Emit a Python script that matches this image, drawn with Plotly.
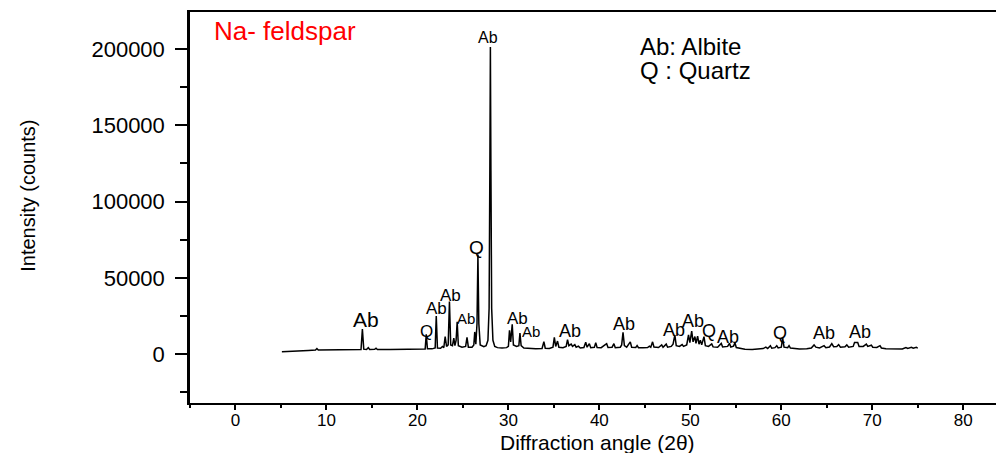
import plotly.graph_objects as go

# ---------------- data ----------------
two_theta = [
    5.1, 6.0, 7.0, 8.0, 8.8, 8.95, 9.1, 10.5, 12.0, 13.0, 13.8, 13.95, 14.1, 14.4, 14.6, 14.75,
    15.3, 15.45, 15.6, 17.0, 19.0, 20.5, 20.85, 20.97, 21.1, 21.6, 21.95, 22.07, 22.2, 22.55,
    22.75, 22.9, 23.05, 23.2, 23.38, 23.52, 23.66, 23.85, 24.0, 24.12, 24.25, 24.37, 24.5,
    24.9, 25.3, 25.45, 25.6, 26.0, 26.2, 26.3, 26.42, 26.55, 26.65, 26.75, 26.9, 27.3, 27.55,
    27.75, 27.88, 27.96, 28.02, 28.08, 28.16, 28.3, 28.5, 28.8, 29.3, 29.8, 30.0, 30.12, 30.25,
    30.42, 30.55, 30.9, 31.15, 31.27, 31.4, 31.7, 32.3, 33.0, 33.7, 33.9, 34.05, 34.5, 34.9,
    35.05, 35.2, 35.4, 35.55, 36.0, 36.35, 36.5, 36.65, 36.9, 37.05, 37.3, 37.45, 37.7, 37.9,
    38.3, 38.5, 38.65, 38.9, 39.05, 39.45, 39.6, 39.75, 40.2, 40.5, 40.8, 40.95, 41.4, 41.6,
    41.75, 42.3, 42.45, 42.6, 42.75, 43.0, 43.4, 43.55, 44.0, 44.15, 44.3, 44.8, 45.3, 45.5,
    45.65, 45.85, 46.0, 46.5, 46.85, 47.0, 47.35, 47.5, 47.9, 48.1, 48.3, 48.45, 48.8, 49.1,
    49.25, 49.6, 49.8, 49.95, 50.15, 50.3, 50.5, 50.62, 50.8, 50.95, 51.1, 51.25, 51.5, 51.65,
    52.0, 52.35, 52.5, 53.0, 53.4, 53.55, 54.1, 54.3, 54.45, 54.75, 54.9, 55.05, 55.5, 56.0,
    56.8, 57.5, 58.0, 58.3, 58.5, 58.8, 58.95, 59.3, 59.5, 59.65, 60.0, 60.15, 60.3, 60.7,
    60.85, 61.0, 61.5, 62.0, 62.8, 63.3, 63.6, 63.8, 64.2, 64.7, 64.9, 65.3, 65.55, 65.75,
    66.1, 66.3, 66.5, 67.0, 67.2, 67.4, 67.9, 68.05, 68.4, 68.55, 69.0, 69.35, 69.5, 69.9,
    70.05, 70.5, 70.85, 71.0, 71.5, 72.5, 73.3, 73.7, 73.9, 74.3, 74.5, 74.85, 75.0,
]
counts = [
    1500, 1900, 2200, 2400, 2600, 3600, 2600, 2700, 2800, 2900, 3000, 16400, 3200, 3000, 4200, 3000,
    3100, 3800, 3000, 3000, 3100, 3200, 3300, 12900, 3500, 3400, 4000, 25000, 4000, 3800,
    5000, 4200, 11500, 5000, 6000, 34500, 6000, 5500, 10500, 5500, 9000, 21200, 5500,
    4500, 5000, 11000, 4500, 4500, 6000, 14500, 6500, 20000, 65200, 20000, 6000, 4800, 5500,
    9000, 30000, 120000, 201300, 120000, 30000, 9000, 5000, 4200, 3900, 4200, 5000, 15500, 8000,
    19500, 6000, 5000, 5500, 13800, 5500, 4000, 3600, 3500, 3600, 8100, 3800, 3700, 4500,
    11000, 5000, 8500, 4500, 4200, 5000, 9400, 5500, 6500, 5000, 6200, 4500, 5200, 4000,
    4300, 7800, 4500, 6800, 4200, 4400, 7500, 4300, 4200, 5500, 6800, 4300, 4500, 6800,
    4200, 4500, 6000, 14200, 5500, 4500, 8000, 4500, 4300, 5600, 4200, 4100, 4300, 5200,
    4500, 8000, 4600, 4300, 6000, 4400, 6500, 4500, 5000, 6500, 12500, 5500, 5000, 6200,
    5000, 6000, 12500, 7500, 15000, 8000, 11500, 7000, 11800, 6500, 9000, 6000, 11400, 5500,
    5000, 6600, 4700, 4500, 7000, 4600, 5000, 7000, 4600, 5200, 7400, 4300, 3600, 3200,
    3000, 3100, 3600, 4500, 3700, 5500, 3800, 4200, 5500, 4000, 4500, 10500, 4500, 4200,
    5500, 3900, 3500, 3300, 3400, 4000, 6000, 4500, 4000, 5500, 4200, 4600, 6800, 4800,
    5000, 6200, 4500, 4800, 6000, 4500, 5000, 7500, 7500, 5000, 5000, 6500, 5000, 5800,
    4500, 4300, 5500, 4000, 3500, 3300, 3300, 4300, 3700, 4400, 3800, 4400, 3800,
]

# phase labels placed over the peaks (data coordinates)
peak_labels = ["Ab", "Ab", "Q", "Ab", "Ab", "Ab", "Q", "Ab", "Ab", "Ab", "Ab",
               "Ab", "Ab", "Q", "Ab", "Q", "Ab", "Ab"]
label_theta = [27.8, 14.4, 20.95, 22.1, 23.6, 25.3, 26.5, 31.0, 32.5, 36.8, 42.7,
               48.2, 50.3, 52.1, 54.1, 59.9, 64.65, 68.7]
label_counts = [207300, 22400, 15100, 29800, 38300, 23500, 70000, 23300, 14800, 15100, 19700,
                15800, 21600, 15000, 11400, 13600, 13600, 14300]

sample_name = "Na- feldspar"
legend_lines = ["Ab: Albite", "Q : Quartz"]
x_title = "Diffraction angle (2θ)"
y_title = "Intensity (counts)"

# ---------------- styles ----------------
FONT = "Liberation Sans, Arial, sans-serif"
label_sizes = [16, 21, 17, 17, 17, 15, 19, 17, 15, 18, 18, 18, 18, 18, 18, 18, 18, 18]

fig = go.Figure()
fig.add_trace(go.Scatter(
    x=two_theta, y=counts, mode="lines",
    line=dict(color="black", width=1.5),
    hoverinfo="x+y", showlegend=False,
))

for txt, lx, ly, fs in zip(peak_labels, label_theta, label_counts, label_sizes):
    fig.add_annotation(x=lx, y=ly, xref="x", yref="y", text=txt, showarrow=False,
                       xanchor="center", yanchor="middle",
                       font=dict(family=FONT, size=fs, color="black"))

fig.add_annotation(x=0.027, y=0.951, xref="paper", yref="paper", text=sample_name,
                   showarrow=False, xanchor="left", yanchor="middle",
                   font=dict(family=FONT, size=26, color="#ff0000"))
fig.add_annotation(x=0.556, y=0.912, xref="paper", yref="paper", text=legend_lines[0],
                   showarrow=False, xanchor="left", yanchor="middle",
                   font=dict(family=FONT, size=24, color="black"))
fig.add_annotation(x=0.556, y=0.851, xref="paper", yref="paper", text=legend_lines[1],
                   showarrow=False, xanchor="left", yanchor="middle",
                   font=dict(family=FONT, size=24, color="black"))
# axis titles, placed as in the reference
fig.add_annotation(x=-0.201, y=0.53, xref="paper", yref="paper", text=y_title,
                   showarrow=False, xanchor="center", yanchor="middle", textangle=-90,
                   font=dict(family=FONT, size=20, color="black"))
fig.add_annotation(x=0.505, y=-0.101, xref="paper", yref="paper", text=x_title,
                   showarrow=False, xanchor="center", yanchor="middle",
                   font=dict(family=FONT, size=21, color="black"))

fig.update_layout(
    width=996, height=453,
    margin=dict(l=190, r=0, t=12, b=50, autoexpand=False),
    paper_bgcolor="white", plot_bgcolor="white",
    font=dict(family=FONT, color="black"),
    showlegend=False,
)
fig.update_xaxes(
    range=[-5, 83.6], tick0=0, dtick=10, ticks="outside", ticklen=5, tickwidth=1.5,
    tickcolor="black", showgrid=False, zeroline=False, automargin=False,
    showline=True, linecolor="black", linewidth=2, mirror=True,
    tickfont=dict(family=FONT, size=17, color="black"), ticklabelstandoff=-4,
    minor=dict(dtick=5, tick0=0, ticks="outside", ticklen=3, tickwidth=1.5, tickcolor="black"),
)
fig.update_yaxes(
    range=[-32100, 224300], tick0=0, dtick=50000, tickformat="d",
    ticks="outside", ticklen=12, tickwidth=2, tickcolor="black",
    showgrid=False, zeroline=False, automargin=False,
    showline=True, linecolor="black", linewidth=2.5, mirror=False,
    tickfont=dict(family=FONT, size=22, color="black"), ticklabelstandoff=6,
    minor=dict(dtick=25000, tick0=0, ticks="outside", ticklen=7, tickwidth=2, tickcolor="black"),
)

fig.write_html("out.html")
